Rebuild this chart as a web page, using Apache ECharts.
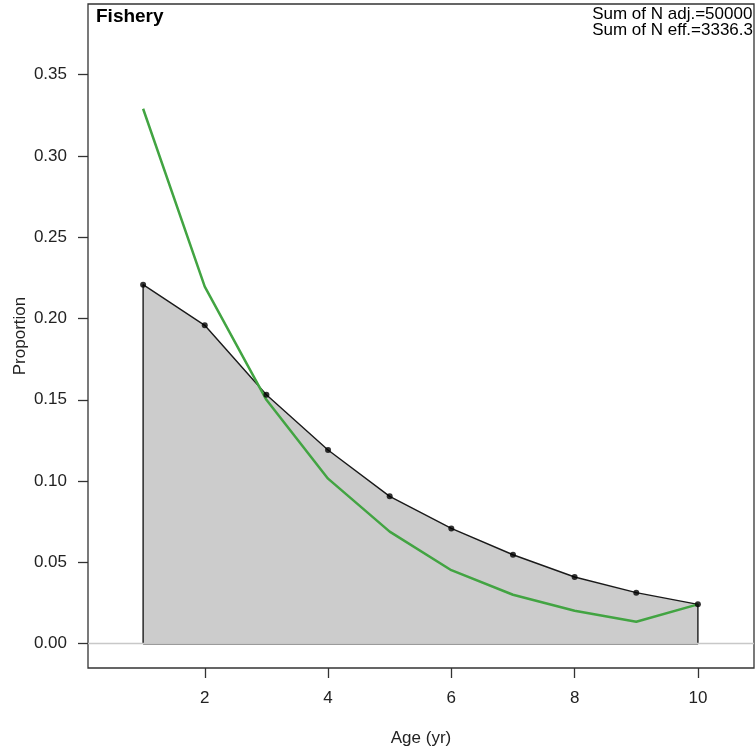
<!DOCTYPE html>
<html>
<head>
<meta charset="utf-8">
<script src="https://cdn.jsdelivr.net/npm/echarts@6/dist/echarts.min.js"></script>
<style>html,body{margin:0;padding:0;background:#fff}#c{width:755px;height:748px}</style>
</head>
<body>
<div id="c"></div>
<script>
const ages = [1, 2, 3, 4, 5, 6, 7, 8, 9, 10];
const observed = [0.2208, 0.1958, 0.1531, 0.1191, 0.0906, 0.0709, 0.0547, 0.0410, 0.0314, 0.0242];
const expected = [0.3290, 0.2196, 0.1500, 0.1015, 0.0689, 0.0452, 0.0301, 0.0203, 0.0135, 0.0242];
const xTicks = [2, 4, 6, 8, 10];
const yTicks = [0, 0.05, 0.10, 0.15, 0.20, 0.25, 0.30, 0.35];
const titleText = 'Fishery';
const noteLines = ['Sum of N adj.=50000', 'Sum of N eff.=3336.3'];

const obsPts = ages.map((a, i) => [a, observed[i]]);
const expPts = ages.map((a, i) => [a, expected[i]]);
const outline = [[ages[0], 0]].concat(obsPts, [[ages[ages.length - 1], 0], [ages[0], 0]]);

const font = 'Liberation Sans, Arial, sans-serif';
const chart = echarts.init(document.getElementById('c'), null, {renderer: 'canvas'});
chart.setOption({
  animation: false,
  backgroundColor: '#fff',
  grid: {left: 88, right: 1, top: 4, bottom: 80, outerBoundsMode: 'none', containLabel: false,
    show: true, borderColor: '#333', borderWidth: 1.3, backgroundColor: 'transparent'},
  xAxis: {
    type: 'value', min: 0.106, max: 10.91,
    name: 'Age (yr)', nameLocation: 'middle', nameGap: 62, nameMoveOverlap: false,
    nameTextStyle: {fontFamily: font, fontSize: 17, color: '#222'},
    axisLine: {show: false, onZero: false},
    splitLine: {show: false},
    axisTick: {show: true, length: 10, inside: false, customValues: xTicks, lineStyle: {color: '#333', width: 1.3}},
    axisLabel: {customValues: xTicks, fontFamily: font, fontSize: 17, color: '#222', margin: 22,
      formatter: v => String(v)}
  },
  yAxis: {
    type: 'value', min: -0.01495, max: 0.3934,
    name: 'Proportion', nameLocation: 'middle', nameGap: 59, nameRotate: 90, nameMoveOverlap: false,
    nameTextStyle: {fontFamily: font, fontSize: 17, color: '#222'},
    axisLine: {show: false, onZero: false},
    splitLine: {show: false},
    axisTick: {show: true, length: 10, customValues: yTicks, lineStyle: {color: '#333', width: 1.3}},
    axisLabel: {customValues: yTicks, fontFamily: font, fontSize: 17, color: '#222', margin: 21,
      formatter: v => v.toFixed(2)}
  },
  series: [
    {
      type: 'line', data: [], symbol: 'none', silent: true,
      markLine: {silent: true, symbol: 'none', label: {show: false},
        lineStyle: {color: '#c8c8c8', width: 1.3, type: 'solid'}, data: [{yAxis: 0}]},
      z: 0
    },
    {
      type: 'line', data: obsPts, symbol: 'none', silent: true,
      lineStyle: {width: 0}, areaStyle: {color: '#cccccc', opacity: 1, origin: 0},
      z: 1
    },
    {
      type: 'line', data: outline, symbol: 'none', silent: true,
      lineStyle: {color: '#1a1a1a', width: 1.4}, z: 2
    },
    {
      type: 'line', data: expPts, symbol: 'none', silent: true,
      lineStyle: {color: '#42a442', width: 2.5}, z: 3
    },
    {
      type: 'scatter', data: obsPts, symbol: 'circle', symbolSize: 6, silent: true,
      itemStyle: {color: '#000'}, z: 4
    }
  ],
  graphic: [
    {type: 'text', left: 96, top: 7, z: 10, style: {text: titleText, font: 'bold 19px ' + font, fill: '#000'}},
    {type: 'text', right: 2, top: 6, z: 10, style: {text: noteLines.join('\n'), font: '17px ' + font, fill: '#000', align: 'right', lineHeight: 16}}
  ]
});
</script>
</body>
</html>
